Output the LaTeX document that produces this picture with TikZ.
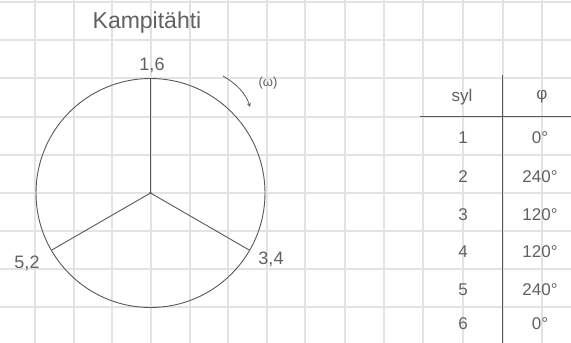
\documentclass[tikz,border=0pt]{standalone}
\usepackage{fontspec}
\setmainfont{Liberation Sans}
\begin{document}
\begin{tikzpicture}[x=1pt,y=-1pt,
  gridline/.style={draw=black!11, line width=1.4pt},
  ink/.style={draw=black!65, line width=0.9pt},
  hand/.style={text=black!62, font=\fontsize{17}{17}\selectfont, inner sep=0pt}]
\useasboundingbox[fill=white] (0,0) rectangle (571,343);
% grid paper
\foreach \gx in {35,74,112,151,190,228,267,305,345,384,423,463,503,542}
  \draw[gridline] (\gx,0) -- (\gx,343);
\foreach \gy in {2,40,78,117,155,193,231,269,307}
  \draw[gridline] (0,\gy) -- (571,\gy);
% title
\node[hand, font=\fontsize{23}{23}\selectfont] (title) at (147,23) {Kampitähti};
% circle and spokes
\coordinate (c) at (150.5,193);
\node[ink, circle, minimum size=229pt, inner sep=0pt] (circ) at (c) {};
\coordinate (ptop) at (150.5,78.5);
\coordinate (pleft) at (51.5,250.2);
\coordinate (pright) at (249.5,250.2);
\draw[ink] (c) -- (ptop);
\draw[ink] (c) -- (pleft);
\draw[ink] (c) -- (pright);
\fill[black!65] (c) circle (1.3pt);
\node[hand, font=\fontsize{18}{18}\selectfont] (l16) at (152,65) {1,6};
\node[hand, font=\fontsize{18}{18}\selectfont] (l52) at (27,263) {5,2};
\node[hand, font=\fontsize{18}{18}\selectfont] (l34) at (271,259) {3,4};
% rotation arrow
\coordinate (a1) at (223,76);
\coordinate (a2) at (250,107);
\draw[ink, line width=0.8pt, ->, >=stealth] (a1) .. controls (237,84) and (246,94) .. (a2);
\node[hand, font=\fontsize{13}{13}\selectfont] (omega) at (268,83) {(ω)};
% table
\coordinate (hl) at (420,116);
\coordinate (hr) at (571,116);
\coordinate (vt) at (502,75);
\coordinate (vb) at (502,343);
\draw[ink] (hl) -- (hr);
\draw[ink] (vt) -- (vb);
\node[hand] (hsyl) at (462,97) {syl};
\node[hand] (hphi) at (542,97) {φ};
\node[hand] (n1) at (463,138) {1};
\node[hand] (n2) at (463,177) {2};
\node[hand] (n3) at (463,215) {3};
\node[hand] (n4) at (463,252) {4};
\node[hand] (n5) at (463,290) {5};
\node[hand] (n6) at (463,324) {6};
\node[hand] (p1) at (540,138) {0°};
\node[hand] (p2) at (540,177) {240°};
\node[hand] (p3) at (540,215) {120°};
\node[hand] (p4) at (540,252) {120°};
\node[hand] (p5) at (540,290) {240°};
\node[hand] (p6) at (540,324) {0°};
\end{tikzpicture}
\end{document}
